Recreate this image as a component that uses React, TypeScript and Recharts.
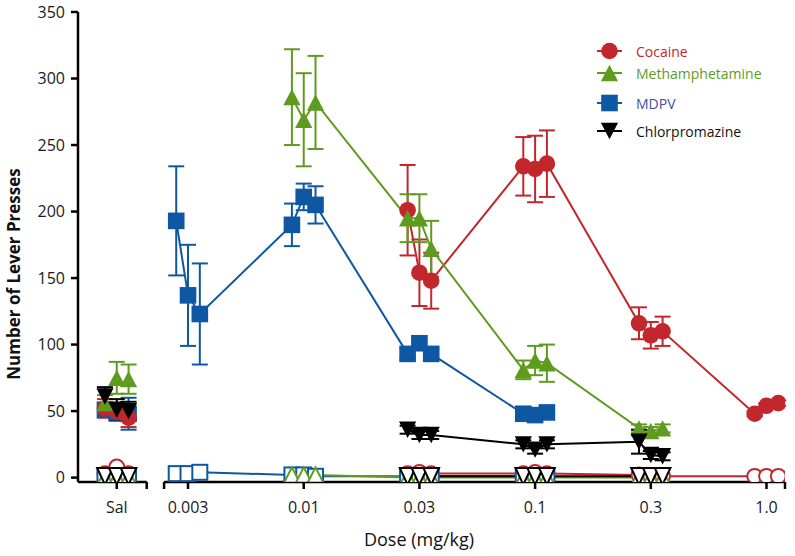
import React from 'react';
import { ComposedChart, Line, XAxis, YAxis, ErrorBar, ReferenceLine } from 'recharts';

// ---------- data ----------
const doseLabels = ['Sal', '0.003', '0.01', '0.03', '0.1', '0.3', '1.0'];
const yTicks = [0, 50, 100, 150, 200, 250, 300, 350];

// Cocaine (3 sessions per dose)
const cocaineDoses = ['Sal', '0.03', '0.1', '0.3', '1.0'];
const cocaineActive = [[52, 50, 45], [201, 154, 148], [234, 232, 236], [116, 107, 110], [48, 54, 56]];
const cocaineActiveErr = [[7, 6, 7], [34, 25, 21], [22, 25, 25], [12, 10, 11], [2, 2, 2]];
const cocaineInactive = [[3, 8, 3], [3, 4, 3], [3, 4, 3], [2, 1, 1], [1, 1, 1]];

// Methamphetamine
const methDoses = ['Sal', '0.01', '0.03', '0.1', '0.3'];
const methActive = [[56, 75, 74], [286, 269, 282], [195, 195, 172], [81, 88, 86], [37, 35, 37]];
const methActiveErr = [[6, 12, 11], [36, 35, 35], [18, 18, 21], [7, 11, 14], [3, 3, 3]];
const methInactive = [[0, 0, 0], [2, 2, 2], [0, 0, 0], [0, 0, 0], [0, 0, 0]];

// MDPV
const mdpvDoses = ['Sal', '0.003', '0.01', '0.03', '0.1'];
const mdpvActive = [[51, 49, 48], [193, 137, 123], [190, 211, 205], [93, 101, 93], [48, 47, 49]];
const mdpvActiveErr = [[5, 6, 12], [41, 38, 38], [16, 10, 14], [4, 4, 4], [3, 3, 3]];
const mdpvInactive = [[1, 1, 1], [3, 3, 4], [2, 2, 1], [1, 1, 1], [1, 1, 1]];

// Chlorpromazine
const cpzDoses = ['Sal', '0.03', '0.1', '0.3'];
const cpzActive = [[61, 51, 50], [36, 32, 32], [25, 21, 25], [27, 17, 16]];
const cpzActiveErr = [[7, 8, 7], [3, 3, 3], [3, 3, 3], [9, 3, 3]];
const cpzInactive = [[1, 1, 1], [1, 1, 1], [1, 1, 1], [1, 1, 1]];

// ---------- layout ----------
const FONT = '"Open Sans", "Noto Sans", sans-serif';
const RED = '#C1272D';
const GREEN = '#5F9B1F';
const BLUE = '#0E58A3';
const BLACK = '#000000';
const SAL_POS = -0.616;
const SESSION_OFFSET = 0.102;
const X_DOMAIN: [number, number] = [-0.951, 5.16];
const BREAK = [-0.357, -0.207];
const Y_MIN = -3.3;
const W = 795;
const H = 556;

const posOf = (label: string) => (label === 'Sal' ? SAL_POS : doseLabels.indexOf(label) - 1);

type Pt = { x: number; y: number; e: number };

function buildPoints(doses: string[], vals: number[][], errs: number[][] | null, sal: boolean): Pt[] {
  const out: Pt[] = [];
  doses.forEach((d, i) => {
    if ((d === 'Sal') !== sal) return;
    vals[i].forEach((v, j) => {
      out.push({ x: posOf(d) + (j - 1) * SESSION_OFFSET, y: v, e: errs ? errs[i][j] : 0 });
    });
  });
  return out;
}

type Shape = 'circle' | 'triangle' | 'square' | 'down';

function Marker({ shape, cx, cy, color, filled }: { shape: Shape; cx: number; cy: number; color: string; filled: boolean }) {
  const fill = filled ? color : '#ffffff';
  const stroke = filled ? 'none' : color;
  const sw = filled ? 0 : 2;
  if (shape === 'circle') {
    return <circle cx={cx} cy={cy} r={filled ? 8.3 : 7.4} fill={fill} stroke={stroke} strokeWidth={sw} />;
  }
  if (shape === 'square') {
    const s = filled ? 16.6 : 15;
    return <rect x={cx - s / 2} y={cy - s / 2} width={s} height={s} fill={fill} stroke={stroke} strokeWidth={sw} />;
  }
  if (shape === 'triangle') {
    const hw = filled ? 8.6 : 7.8;
    const hh = filled ? 8.2 : 7.6;
    return <polygon points={`${cx},${cy - hh} ${cx - hw},${cy + hh} ${cx + hw},${cy + hh}`} fill={fill} stroke={stroke} strokeWidth={sw} strokeLinejoin="miter" />;
  }
  const hw = filled ? 8.6 : 7.8;
  const hh = filled ? 8.2 : 8.4;
  return <polygon points={`${cx - hw},${cy - hh} ${cx + hw},${cy - hh} ${cx},${cy + hh}`} fill={fill} stroke={stroke} strokeWidth={sw} strokeLinejoin="miter" />;
}

const dotFn = (shape: Shape, color: string, filled: boolean) => (props: any) => {
  const { cx, cy, index } = props;
  if (cx == null || cy == null || isNaN(cx) || isNaN(cy)) return <g key={`n${index}`} />;
  return (
    <g key={`m${index}`}>
      <Marker shape={shape} cx={cx} cy={cy} color={color} filled={filled} />
    </g>
  );
};

type SeriesDef = {
  name: string;
  doses: string[];
  active: number[][];
  err: number[][];
  inactive: number[][];
  color: string;
  shape: Shape;
};

const seriesDefs: Record<string, SeriesDef> = {
  cocaine: { name: 'Cocaine', doses: cocaineDoses, active: cocaineActive, err: cocaineActiveErr, inactive: cocaineInactive, color: RED, shape: 'circle' },
  meth: { name: 'Methamphetamine', doses: methDoses, active: methActive, err: methActiveErr, inactive: methInactive, color: GREEN, shape: 'triangle' },
  mdpv: { name: 'MDPV', doses: mdpvDoses, active: mdpvActive, err: mdpvActiveErr, inactive: mdpvInactive, color: BLUE, shape: 'square' },
  cpz: { name: 'Chlorpromazine', doses: cpzDoses, active: cpzActive, err: cpzActiveErr, inactive: cpzInactive, color: BLACK, shape: 'down' },
};

const inactiveOrder = ['cocaine', 'mdpv', 'meth', 'cpz'];
const activeOrder = ['mdpv', 'cocaine', 'meth', 'cpz'];

function renderInactive(key: string) {
  const s = seriesDefs[key];
  const sal = buildPoints(s.doses, s.inactive, null, true);
  const dose = buildPoints(s.doses, s.inactive, null, false);
  return [
    <Line key={`${key}-in-sal`} data={sal} dataKey="y" stroke="none" strokeWidth={0} dot={dotFn(s.shape, s.color, false)} activeDot={false} isAnimationActive={false} />,
    <Line key={`${key}-in-dose`} data={dose} dataKey="y" stroke={s.color} strokeWidth={2} dot={dotFn(s.shape, s.color, false)} activeDot={false} isAnimationActive={false} />,
  ];
}

function renderActive(key: string) {
  const s = seriesDefs[key];
  const sal = buildPoints(s.doses, s.active, s.err, true);
  const dose = buildPoints(s.doses, s.active, s.err, false);
  return [
    // connecting line + error bars first, markers on top
    <Line key={`${key}-ac-sal-eb`} data={sal} dataKey="y" stroke="none" strokeWidth={0} dot={false} activeDot={false} isAnimationActive={false}>
      <ErrorBar dataKey="e" direction="y" width={8} stroke={s.color} strokeWidth={2} isAnimationActive={false} />
    </Line>,
    <Line key={`${key}-ac-dose-eb`} data={dose} dataKey="y" stroke={s.color} strokeWidth={2} dot={false} activeDot={false} isAnimationActive={false}>
      <ErrorBar dataKey="e" direction="y" width={8} stroke={s.color} strokeWidth={2} isAnimationActive={false} />
    </Line>,
    <Line key={`${key}-ac-sal`} data={sal} dataKey="y" stroke="none" strokeWidth={0} dot={dotFn(s.shape, s.color, true)} activeDot={false} isAnimationActive={false} />,
    <Line key={`${key}-ac-dose`} data={dose} dataKey="y" stroke="none" strokeWidth={0} dot={dotFn(s.shape, s.color, true)} activeDot={false} isAnimationActive={false} />,
  ];
}

const xTicks = [SAL_POS, BREAK[0], BREAK[1], 0, 1, 2, 3, 4, 5, X_DOMAIN[1]];
const xTickFmt = (v: number) => {
  if (Math.abs(v - SAL_POS) < 1e-6) return 'Sal';
  if (Number.isInteger(v) && v >= 0 && v <= 5) return doseLabels[v + 1];
  return '';
};

const legendRows = [
  { key: 'cocaine', text: 'Cocaine', textColor: RED, y: 51 },
  { key: 'meth', text: 'Methamphetamine', textColor: GREEN, y: 73 },
  { key: 'mdpv', text: 'MDPV', textColor: '#3D4FA8', y: 103 },
  { key: 'cpz', text: 'Chlorpromazine', textColor: '#111111', y: 131 },
];

export default function App() {
  return (
    <div style={{ position: 'absolute', left: 0, top: 0, width: W, height: H, background: '#ffffff', fontFamily: FONT }}>
      <ComposedChart width={W} height={H} margin={{ top: 12, right: 10, bottom: 4, left: 0 }}>
        <XAxis
          type="number"
          dataKey="x"
          domain={X_DOMAIN}
          allowDataOverflow
          ticks={xTicks}
          interval={0}
          tickFormatter={xTickFmt}
          axisLine={false}
          tickLine={{ stroke: '#000', strokeWidth: 2.5 }}
          tickSize={7}
          tickMargin={13}
          height={70}
          tick={{ fill: '#1a1a1a', fontSize: 16, fontFamily: FONT }}
        />
        <YAxis
          type="number"
          domain={[Y_MIN, 350]}
          allowDataOverflow
          ticks={yTicks}
          interval={0}
          width={78}
          axisLine={{ stroke: '#000', strokeWidth: 2.5 }}
          tickLine={{ stroke: '#000', strokeWidth: 2.5 }}
          tickSize={7}
          tickMargin={6}
          tick={{ fill: '#1a1a1a', fontSize: 16, fontFamily: FONT }}
        />
        <ReferenceLine segment={[{ x: X_DOMAIN[0], y: Y_MIN }, { x: BREAK[0], y: Y_MIN }]} stroke="#000" strokeWidth={2.5} ifOverflow="visible" />
        <ReferenceLine segment={[{ x: BREAK[1], y: Y_MIN }, { x: X_DOMAIN[1], y: Y_MIN }]} stroke="#000" strokeWidth={2.5} ifOverflow="visible" />
        {inactiveOrder.flatMap(renderInactive)}
        {activeOrder.flatMap(renderActive)}
      </ComposedChart>
      <svg width={W} height={H} style={{ position: 'absolute', left: 0, top: 0, pointerEvents: 'none' }}>
        <text x={20} y={274} transform="rotate(-90 20 274)" textAnchor="middle" fontSize={17} fontWeight="bold" fill="#111" fontFamily={FONT}>
          Number of Lever Presses
        </text>
        <text x={419} y={546} textAnchor="middle" fontSize={18} fill="#111" fontFamily={FONT}>
          Dose (mg/kg)
        </text>
        {legendRows.map((r) => {
          const s = seriesDefs[r.key];
          return (
            <g key={r.key}>
              <line x1={597} x2={622} y1={r.y} y2={r.y} stroke={s.color} strokeWidth={2} />
              <Marker shape={s.shape} cx={609.5} cy={r.y} color={s.color} filled />
              <text x={636} y={r.y} dominantBaseline="central" fontSize={14} fill={r.textColor} fontFamily={FONT}>
                {r.text}
              </text>
            </g>
          );
        })}
      </svg>
    </div>
  );
}
